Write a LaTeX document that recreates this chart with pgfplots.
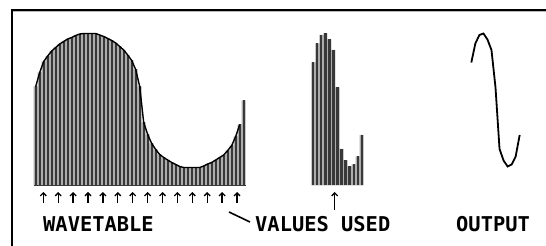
\documentclass[border=0pt]{standalone}
\usepackage{fontspec}
\usepackage{pgfplots}
\usepackage{pgfplotstable}
\pgfplotsset{compat=1.18}
\usetikzlibrary{arrows.meta}
\setmonofont{DejaVu Sans Mono}
\definecolor{barDark}{HTML}{383838}
\definecolor{barLight}{HTML}{ADADAD}
\pgfplotsset{hid/.style={scale only axis, axis lines=none, ticks=none, clip=false, anchor=south west}}

\pgfplotstableread{
k v
0 99
1 113
2 124
3 129.5
4 134.5
5 138
6 141.5
7 144
8 146.5
9 148
10 150
11 151.5
12 152
13 152
14 152
15 152
16 150.5
17 149
18 147
19 145
20 142.5
21 139
22 135.5
23 130.5
24 125
25 116
26 99
27 63
28 51
29 42
30 36
31 31
32 28
33 25.5
34 23
35 21
36 19
37 18
38 18
39 18
40 18
41 18
42 19.5
43 21.5
44 23
45 25.5
46 28
47 30.5
48 35
49 40
50 49
51 61
52 85
}\wave

\pgfplotstableread{
k v
0 123
1 142
2 150.5
3 152
4 146
5 135.5
6 98
7 36.5
8 25
9 19
10 21
11 29
12 50.5
}\used

\begin{document}
\begin{tikzpicture}
\useasboundingbox (0,0) rectangle (546pt,246pt);
% frame
\draw[gray!55, line width=1pt] (13pt,234.3pt) -- (546pt,234.3pt);
\draw[line width=1.8pt] (12pt,0) -- (12pt,236pt);
\draw[line width=1.8pt] (11.1pt,236pt) -- (546pt,236pt);

% wavetable
\begin{axis}[hid, at={(33.7pt,60.5pt)}, width=212pt, height=160pt,
  xmin=-0.5, xmax=52.5, ymin=0, ymax=160]
\addplot[ybar, bar width=4pt, fill=barLight, draw=none] table {\wave};
\addplot[ycomb, line width=2.2pt, barDark, no markers] table {\wave};
\addplot[black, line width=1.4pt, no markers, restrict x to domain=0:51] table {\wave};
\draw[line width=1.5pt, barDark] (axis cs:-0.5,0) -- (axis cs:52.5,0);
\end{axis}

% values used
\begin{axis}[hid, at={(311.3pt,60.5pt)}, width=52.4pt, height=160pt,
  xmin=-0.5, xmax=12.5, ymin=0, ymax=160]
\addplot[ybar, bar width=4pt, fill=barLight, draw=none] table {\used};
\addplot[ycomb, line width=2.2pt, barDark, no markers] table {\used};
\end{axis}

% output
\begin{axis}[hid, at={(469.3pt,60.5pt)}, width=52.4pt, height=160pt,
  xmin=-0.5, xmax=12.5, ymin=0, ymax=160]
\addplot[black, line width=1.8pt, no markers] table {\used};
\end{axis}

% arrows
\foreach \i in {0,...,13}
  \draw[line width=1.3pt, -{Straight Barb[length=3pt,width=6pt]}]
    ({43.3pt+14.9pt*\i}, 43pt) -- ++(0,11pt);
\draw[line width=1.3pt, -{Straight Barb[length=3pt,width=6pt]}] (334.7pt,36pt) -- (334.7pt,54pt);
\draw[line width=1.6pt] (229pt,34pt) -- (250pt,24pt);

% labels
\tikzset{lab/.style={anchor=base west, inner sep=0pt, font=\fontsize{20.4pt}{22pt}\selectfont\ttfamily\bfseries}}
\node[lab] at (43pt,14pt) {WAVETABLE};
\node[lab] at (255pt,14pt) {VALUES USED};
\node[lab] at (456pt,14pt) {OUTPUT};
\end{tikzpicture}
\end{document}
